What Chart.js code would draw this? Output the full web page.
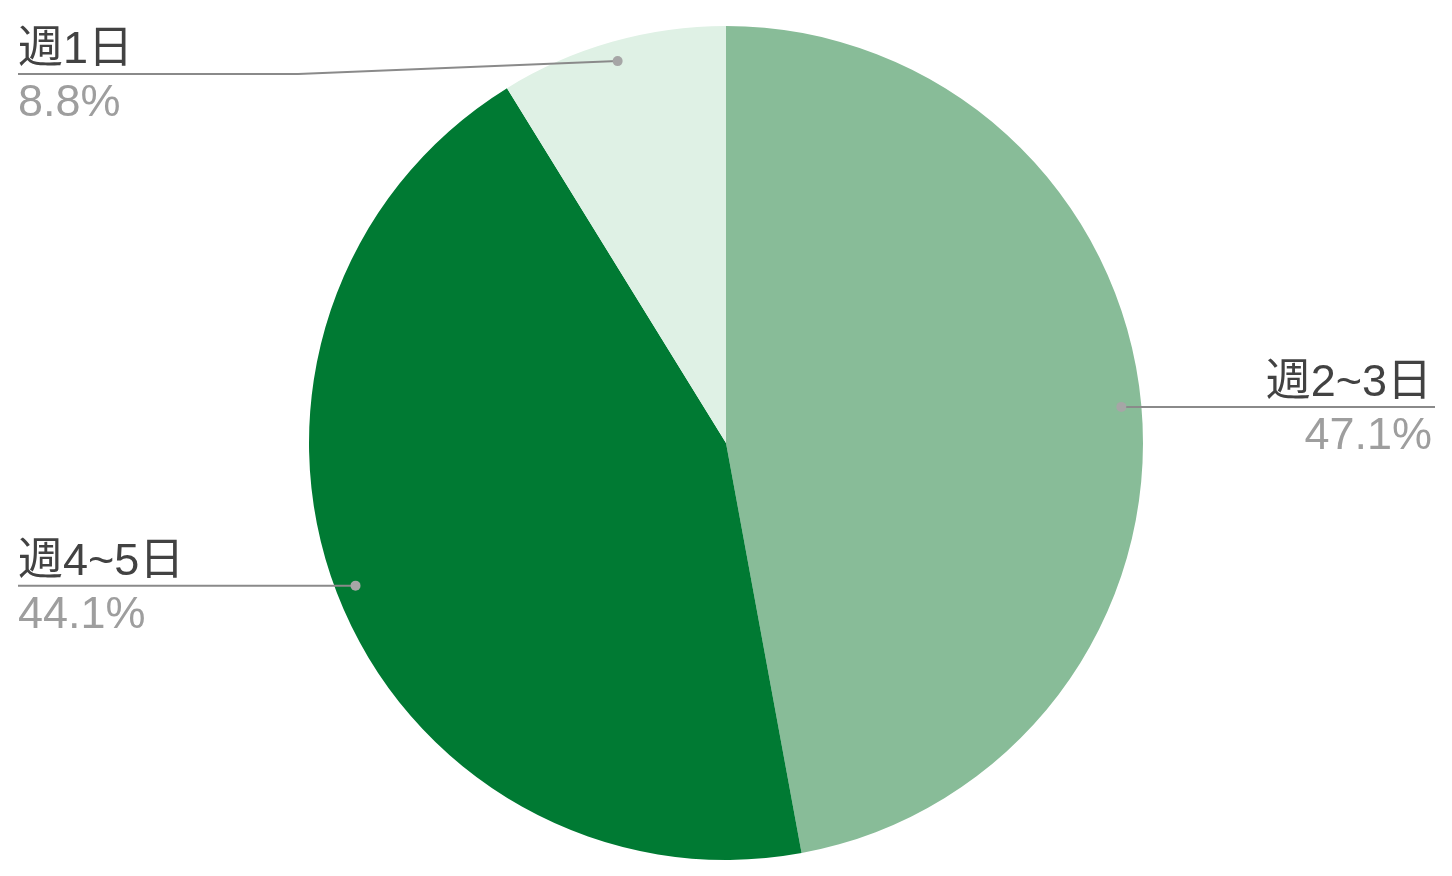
<!DOCTYPE html>
<html>
<head>
<meta charset="utf-8">
<script src="https://cdn.jsdelivr.net/npm/chart.js@4.4.1/dist/chart.umd.min.js"></script>
<style>
  html, body { margin: 0; padding: 0; background: #fff; }
  #wrap { width: 1452px; height: 876px; position: relative; }
</style>
</head>
<body>
<div id="wrap"><canvas id="pie"></canvas></div>
<script>
  // データ
  const labels = ['週2~3日', '週4~5日', '週1日'];
  const values = [47.1, 44.1, 8.8];
  const colors = ['#88bc98', '#007a33', '#dff1e5'];

  // ラベル配置（左寄せ / 右寄せ と 線の端）
  const labelLayout = [
    { side: 'right', textX: 1432, lineEnd: 1435 },
    { side: 'left', textX: 18, lineEnd: 18 },
    { side: 'left', textX: 18, lineEnd: 18, bendX: 298, lineY: 74 }
  ];

  const FONT = "45px Arial, 'Liberation Sans', 'Noto Sans CJK JP', sans-serif";

  const leaderPlugin = {
    id: 'leaders',
    afterDatasetsDraw(chart) {
      const { ctx } = chart;
      const meta = chart.getDatasetMeta(0);
      const total = values.reduce((a, b) => a + b, 0);
      meta.data.forEach((arc, i) => {
        const p = arc.getProps(['x', 'y', 'startAngle', 'endAngle', 'outerRadius'], true);
        const mid = (p.startAngle + p.endAngle) / 2;
        const r = p.outerRadius * 0.952;
        const dx = p.x + Math.cos(mid) * r;
        const dy = p.y + Math.sin(mid) * r;
        const lay = labelLayout[i];
        const ly = lay.lineY ?? dy;

        ctx.save();
        ctx.strokeStyle = '#8a8a8a';
        ctx.lineWidth = 2;
        ctx.beginPath();
        ctx.moveTo(dx, dy);
        if (lay.bendX != null) {
          ctx.lineTo(lay.bendX, ly);
        }
        ctx.lineTo(lay.lineEnd, ly);
        ctx.stroke();

        ctx.fillStyle = '#a6a6a6';
        ctx.beginPath();
        ctx.arc(dx, dy, 5, 0, Math.PI * 2);
        ctx.fill();

        ctx.font = FONT;
        ctx.textAlign = lay.side === 'right' ? 'right' : 'left';
        ctx.textBaseline = 'alphabetic';
        ctx.fillStyle = '#424242';
        ctx.fillText(labels[i], lay.textX, ly - 11);
        ctx.fillStyle = '#9e9e9e';
        const pct = (values[i] / total * 100).toFixed(1) + '%';
        ctx.fillText(pct, lay.textX, ly + 42);
        ctx.restore();
      });
    }
  };

  new Chart(document.getElementById('pie'), {
    type: 'pie',
    data: {
      labels: labels,
      datasets: [{
        data: values,
        backgroundColor: colors,
        borderWidth: 0
      }]
    },
    options: {
      responsive: true,
      maintainAspectRatio: false,
      animation: false,
      layout: { padding: { top: 26, bottom: 16, left: 0, right: 0 } },
      plugins: {
        legend: { display: false },
        tooltip: { enabled: false }
      }
    },
    plugins: [leaderPlugin]
  });
</script>
</body>
</html>
